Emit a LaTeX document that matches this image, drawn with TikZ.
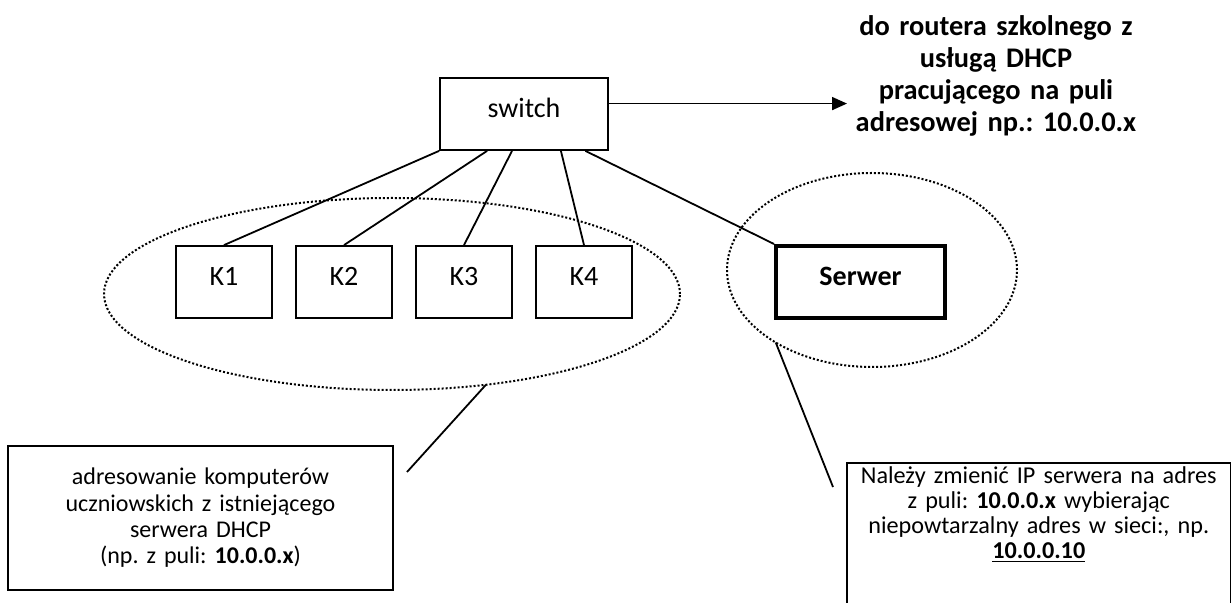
\documentclass[tikz,border=0pt]{standalone}
\usepackage{fontspec}
\setmainfont[Numbers=Lining]{Carlito}
\usepackage{tikz}
\usetikzlibrary{arrows.meta,shapes.geometric}
\frenchspacing

\begin{document}
\begin{tikzpicture}[x=0.5pt,y=-0.5pt,
  box/.style={draw,line width=0.9pt,minimum width=48pt,minimum height=36pt,inner sep=0pt,
    text height=9pt,text depth=5pt,font=\fontsize{14}{16}\selectfont},
  srv/.style={box,line width=2pt,minimum width=84.5pt,font=\fontsize{14}{16}\selectfont\bfseries},
  grp/.style={ellipse,draw,line width=1pt,dash pattern=on 1pt off 1pt,inner sep=0pt,outer sep=0pt},
  note/.style={align=center,line width=0.9pt,inner sep=1.5pt,font=\fontsize{12}{13.2}\selectfont},
  wire/.style={line width=0.9pt}]
  \useasboundingbox (0,0) rectangle (1231,603);
  \node[box,minimum width=84pt] (switch) at (524,114) {switch};
  \node[box] (k1) at (224,282) {K1};
  \node[box] (k2) at (344,282) {K2};
  \node[box] (k3) at (464,282) {K3};
  \node[box] (k4) at (584,282) {K4};
  \node[srv] (serwer) at (860.5,282) {Serwer};
  \node[grp,minimum width=288pt,minimum height=96pt] (grpK) at (392,294) {};
  \node[grp,minimum width=145pt,minimum height=97pt] (grpS) at (872,270) {};
  \node[align=center,text width=170pt,inner sep=0pt,font=\fontsize{14.2}{15.9}\selectfont\bfseries] (router) at (996,76)
    {do routera szkolnego z\\usługą DHCP\\pracującego na puli\\adresowej np.: 10.0.0.x};
  \node[note,draw,text width=185pt,minimum width=192.5pt,minimum height=72pt] (noteK) at (200.5,518)
    {adresowanie komputerów\\uczniowskich z istniejącego\\serwera DHCP\\(np. z puli: \textbf{10.0.0.x})};
  \node[note,anchor=north,text width=185pt,minimum width=190.75pt,font=\fontsize{12.1}{12.5}\selectfont] (noteS) at (1038.75,463)
    {Należy zmienić IP serwera na adres\\z puli: \textbf{10.0.0.x} wybierając\\niepowtarzalny adres w sieci:, np.\\\underline{\textbf{10.0.0.10}}};
  \coordinate (toRouter) at (847,0);
  \coordinate (tipK) at (407,472);
  \coordinate (tipS) at (833,487);
  \draw[wire] (noteS.north west |- 0,603) -- (noteS.north west) -- (noteS.north east) -- (noteS.north east |- 0,603);
  \draw[wire] (switch.south west) -- (k1.north);
  \draw[wire] (switch.-135) -- (k2.north);
  \draw[wire] (switch.-108.4) -- (k3.north);
  \draw[wire] (switch.-45) -- (k4.north);
  \draw[wire] (switch.-31.4) -- (serwer.north west);
  \draw[wire,-{Triangle[length=7.5pt,width=6.5pt]}] (switch.7.5) -- (switch.7.5 -| toRouter);
  \draw[wire] (grpK.-44.4) -- (tipK);
  \draw[wire] (grpS.-143) -- (tipS);
\end{tikzpicture}
\end{document}
